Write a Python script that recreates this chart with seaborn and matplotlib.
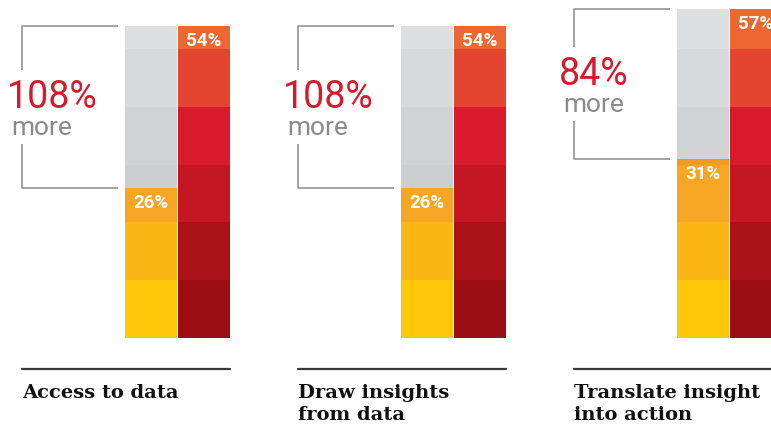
import pandas as pd
import matplotlib
matplotlib.use("Agg")
import matplotlib.pyplot as plt
import seaborn as sns

# --- Data ---
categories = ["Access to data", "Draw insights\nfrom data", "Translate insight\ninto action"]
left_pct = [26, 26, 31]      # lower group share
right_pct = [54, 54, 57]     # higher group share
more_pct = [108, 108, 84]    # relative difference

# --- Colours per 10% band ---
orange_band = ["#FFC709", "#FBB616", "#F6A623", "#F19B22"]
gray_band = ["#DADBDD", "#DADBDD", "#CCCDCF", "#D1D2D4", "#D8D9DB", "#DEDFE1"]
red_band = ["#990D13", "#AB1119", "#C41623", "#D9192C", "#E34531", "#EC6732"]

sns.set_theme(style="white")
plt.rcParams["font.family"] = ["Roboto", "DejaVu Sans"]

PX = 5.78          # pixels per percentage point
STEP = 276         # panel spacing in pixels
BAR_W = 52


def bands(lo, hi):
    """split lo..hi into pieces on 10% boundaries"""
    out = []
    b = lo
    while b < hi:
        top = min((int(b // 10) + 1) * 10, hi)
        out.append((b, top, int(b // 10)))
        b = top
    return out


# --- Build segment table ---
rows = []
for i, (lv, rv) in enumerate(zip(left_pct, right_pct)):
    base = STEP * i
    for lo, hi, k in bands(0, lv):
        rows.append(dict(x=151 + base, bottom=lo, h=hi - lo, color=orange_band[k]))
    for lo, hi, k in bands(lv, rv):
        rows.append(dict(x=151 + base, bottom=lo, h=hi - lo, color=gray_band[k]))
    for lo, hi, k in bands(0, rv):
        rows.append(dict(x=204 + base, bottom=lo, h=hi - lo, color=red_band[k]))
seg = pd.DataFrame(rows)

fig = plt.figure(figsize=(7.71, 4.24), dpi=100)
ax = fig.add_axes([0, 0, 1, 1])
ax.set_xlim(0, 771)
ax.set_ylim(-86 / PX, 338 / PX)
ax.axis("off")

ax.bar(seg["x"], seg["h"], bottom=seg["bottom"], width=BAR_W,
       color=seg["color"], linewidth=0)

gap = 37 / PX
for i, (cat, lv, rv, mp) in enumerate(zip(categories, left_pct, right_pct, more_pct)):
    base = STEP * i
    bx = 22 + base
    mid = (lv + rv) / 2
    # bracket
    kw = dict(color="#9D9D9D", lw=1.3, solid_capstyle="butt")
    ax.plot([bx + 96, bx, bx], [rv, rv, mid + gap], **kw)
    ax.plot([bx + 96, bx, bx], [lv, lv, mid - gap], **kw)
    ax.text(bx - 15, mid - 0.2, f"{mp}%", color="#D7192D", fontsize=27,
            fontweight="normal", ha="left", va="baseline")
    ax.text(bx - 11, mid - 28.5 / PX, "more", color="#8A8A8A", fontsize=19,
            fontweight="normal", ha="left", va="baseline")
    # value labels
    ax.text(151 + base, lv - 20.5 / PX, f"{lv}%", color="white", fontsize=13.5,
            fontweight="bold", ha="center", va="baseline")
    ax.text(204 + base, rv - 20 / PX, f"{rv}%", color="white", fontsize=13.5,
            fontweight="bold", ha="center", va="baseline")
    # bottom rule and category label
    ax.plot([bx, bx + 208], [-31 / PX, -31 / PX], color="#3A3A3A", lw=1.6)
    for j, line in enumerate(cat.split("\n")):
        ax.text(bx, -(60 + 22 * j) / PX, line, family="DejaVu Serif",
                fontsize=14, fontweight="bold", color="#111111",
                ha="left", va="baseline")

plt.savefig("out.png", dpi=100)
